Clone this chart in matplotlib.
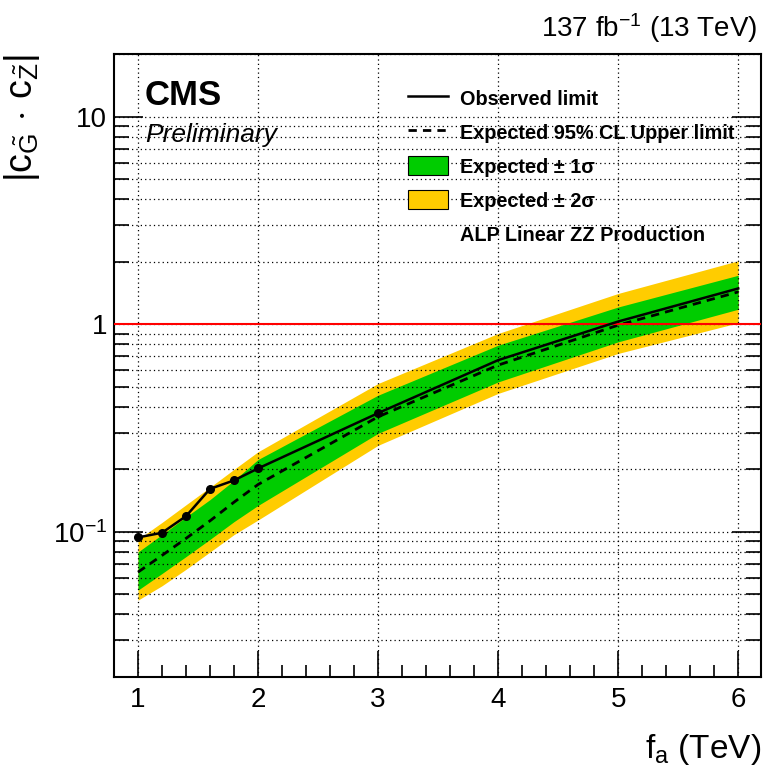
import matplotlib
matplotlib.use("Agg")
import matplotlib.pyplot as plt
from matplotlib.lines import Line2D
from matplotlib.patches import Patch
from matplotlib.ticker import FixedLocator, FixedFormatter, LogLocator, NullFormatter, MultipleLocator
import numpy as np

plt.rcParams['font.family'] = ['Liberation Sans', 'DejaVu Sans']
plt.rcParams['mathtext.fontset'] = 'custom'
plt.rcParams['mathtext.rm'] = 'Liberation Sans'
plt.rcParams['mathtext.it'] = 'Liberation Sans:italic'
plt.rcParams['mathtext.bf'] = 'Liberation Sans:bold'

# f_a mass points (TeV)
fa = [1.0, 1.2, 1.4, 1.6, 1.8, 2.0, 3.0, 4.0, 5.0, 6.0]
observed = [0.094, 0.099, 0.119, 0.161, 0.177, 0.202, 0.373, 0.671, 1.03, 1.486]
expected = [0.064, 0.077, 0.093, 0.113, 0.139, 0.169, 0.358, 0.635, 0.989, 1.43]
sig1_lo = [0.0524, 0.063, 0.076, 0.092, 0.112, 0.134, 0.298, 0.527, 0.822, 1.18]
sig1_hi = [0.080, 0.097, 0.118, 0.143, 0.177, 0.223, 0.455, 0.792, 1.21, 1.72]
sig2_lo = [0.0469, 0.055, 0.066, 0.080, 0.097, 0.114, 0.261, 0.464, 0.723, 1.015]
sig2_hi = [0.092, 0.111, 0.135, 0.164, 0.200, 0.243, 0.518, 0.902, 1.406, 2.02]
marked = [0, 1, 2, 3, 4, 5, 6]

green = '#00cc00'
yellow = '#ffcc00'

fig = plt.figure(figsize=(7.69, 7.72), dpi=100)
ax = fig.add_axes([114/769, 1-677/772, (761-114)/769, (677-54)/772])

ax.fill_between(fa, sig2_lo, sig2_hi, color=yellow, lw=0, zorder=1)
ax.fill_between(fa, sig1_lo, sig1_hi, color=green, lw=0, zorder=1.1)
ax.plot(fa, expected, color='black', lw=2, ls=(0, (3, 2.2)), zorder=3)
ax.plot(fa, observed, color='black', lw=1.8, marker='o', ms=5.5, markevery=marked, zorder=4)
ax.axhline(1.0, color='red', lw=1.5, zorder=3.5)

ax.set_yscale('log')
ax.set_xlim(0.8, 6.19)
ax.set_ylim(0.02, 20)

ax.xaxis.set_major_locator(MultipleLocator(1))
ax.xaxis.set_minor_locator(MultipleLocator(0.2))
ax.yaxis.set_major_locator(FixedLocator([0.1, 1, 10]))
ax.yaxis.set_major_formatter(FixedFormatter([r'$10^{-1}$', '1', '10']))
ax.yaxis.set_minor_locator(LogLocator(base=10, subs=np.arange(2, 10)))
ax.yaxis.set_minor_formatter(NullFormatter())

ax.set_axisbelow('line')
ax.grid(True, which='major', axis='x', color='black', ls=(0, (1, 2.5)), lw=0.9)
ax.grid(True, which='both', axis='y', color='black', ls=(0, (1, 2.5)), lw=0.9)

ax.tick_params(which='both', direction='in', right=True, top=False, labelsize=20, width=1.2)
ax.tick_params(which='major', axis='x', length=19, pad=7)
ax.tick_params(which='minor', axis='x', length=9)
ax.tick_params(which='major', axis='y', length=21, pad=5)
ax.tick_params(which='minor', axis='y', length=11)
for s in ax.spines.values():
    s.set_linewidth(1.5)

ax.set_xlabel(r'f$_{\mathrm{a}}$ (TeV)', fontsize=24, loc='right', labelpad=14)
ax.set_ylabel(r'$|\mathrm{c}_{\tilde{\mathrm{G}}}\,\cdot\,\mathrm{c}_{\tilde{\mathrm{Z}}}|$',
              fontsize=27, loc='top', labelpad=8)

ax.text(0.048, 0.934, 'CMS', transform=ax.transAxes, fontsize=25, fontweight='bold', va='center')
ax.text(0.048, 0.870, 'Preliminary', transform=ax.transAxes, fontsize=19, style='italic', va='center')
fig.text(757/769, 1-28/772, r'137 fb$^{-1}$ (13 TeV)', fontsize=20, ha='right', va='center')

handles = [Line2D([], [], color='black', lw=1.8),
           Line2D([], [], color='black', lw=2, ls=(0, (3, 2.2))),
           Patch(facecolor=green, edgecolor='black', lw=0.8),
           Patch(facecolor=yellow, edgecolor='black', lw=0.8),
           Line2D([], [], color='none')]
labels = ['Observed limit', 'Expected 95% CL Upper limit', 'Expected ± 1σ',
          'Expected ± 2σ', 'ALP Linear ZZ Production']
leg = ax.legend(handles, labels, loc='upper left', bbox_to_anchor=(0.4544, 0.945), frameon=False,
                prop={'weight': 'bold', 'size': 14.3}, handlelength=2.0, handleheight=1.1,
                handletextpad=0.6, labelspacing=0.69, borderpad=0, borderaxespad=0)

fig.savefig('out.png', dpi=100)
